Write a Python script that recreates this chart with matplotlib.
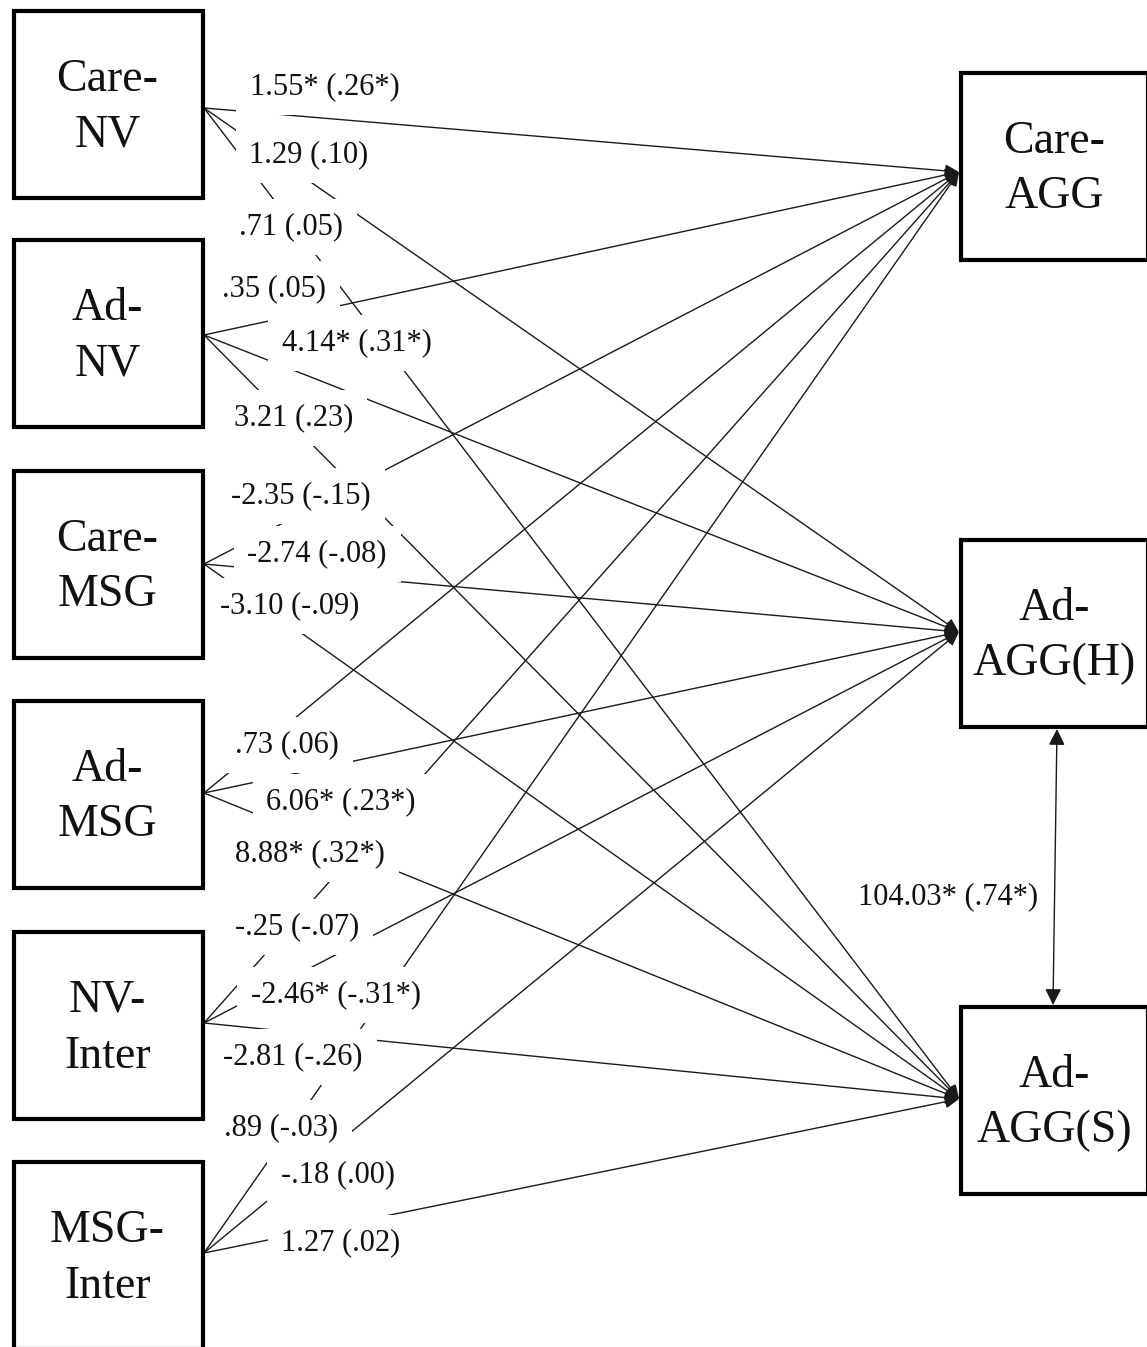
import matplotlib.pyplot as plt
from matplotlib.patches import Rectangle

plt.rcParams['font.family'] = ['Liberation Serif', 'DejaVu Serif']

# predictors (left) and outcomes (right)
sources = ['Care-\nNV', 'Ad-\nNV', 'Care-\nMSG', 'Ad-\nMSG', 'NV-\nInter', 'MSG-\nInter']
targets = ['Care-\nAGG', 'Ad-\nAGG(H)', 'Ad-\nAGG(S)']

# path estimates: b (beta), listed top to bottom as printed in the figure
path_labels = ['1.55* (.26*)', '1.29 (.10)', '.71 (.05)',
               '.35 (.05)', '4.14* (.31*)', '3.21 (.23)',
               '-2.35 (-.15)', '-2.74 (-.08)', '-3.10 (-.09)',
               '.73 (.06)', '6.06* (.23*)', '8.88* (.32*)',
               '-.25 (-.07)', '-2.46* (-.31*)', '-2.81 (-.26)',
               '.89 (-.03)', '-.18 (.00)', '1.27 (.02)']
cov_label = '104.03* (.74*)'

# ---- layout (pixel coordinates, y down) ----
W, H = 1147, 1347
src_x0, src_x1 = 14, 203
src_top = [11, 240, 471, 701, 932, 1162]
src_h = 187
src_anchor = [108, 335, 564, 793, 1023, 1253]

tgt_x0, tgt_x1 = 961, 1148
tgt_top = [73, 540, 1007]
tgt_h = 187
tgt_anchor = [172, 632, 1099]

label_pos = [(325, 87), (309, 155), (291, 227),
             (274, 289), (357, 343), (294, 418),
             (301, 496), (317, 554), (290, 606),
             (287, 745), (341, 802), (310, 854),
             (297, 927), (336, 995), (293, 1057),
             (281, 1128), (338, 1175), (341, 1243)]

fig = plt.figure(figsize=(W / 100, H / 100), dpi=100)
ax = fig.add_axes([0, 0, 1, 1])
ax.set_xlim(0, W)
ax.set_ylim(H, 0)
ax.axis('off')

# paths from every predictor to every outcome
for sy in src_anchor:
    for ty in tgt_anchor:
        ax.annotate('', xy=(959, ty), xytext=(src_x1 + 1, sy),
                    arrowprops=dict(arrowstyle='-|>,head_length=0.6,head_width=0.28',
                                    color='#1a1a1a', lw=1.0, shrinkA=0, shrinkB=0,
                                    mutation_scale=14),
                    zorder=1)

# labels with white text boxes covering the lines
for txt, (x, y) in zip(path_labels, label_pos):
    ax.text(x, y, txt, fontsize=22, ha='center', va='center', color='#111111',
            bbox=dict(boxstyle='square,pad=0.45', fc='white', ec='none'), zorder=3)

# covariance between the two adolescent aggression outcomes
ax.annotate('', xy=(1057, 729), xytext=(1053, 1005),
            arrowprops=dict(arrowstyle='<|-|>,head_length=0.7,head_width=0.35',
                            color='#1a1a1a', lw=1.0, shrinkA=0, shrinkB=0,
                            mutation_scale=14), zorder=2)
ax.text(948, 897, cov_label, fontsize=22, ha='center', va='center', color='#111111',
        bbox=dict(boxstyle='square,pad=0.2', fc='white', ec='none'), zorder=3)

# boxes
for name, top in zip(sources, src_top):
    ax.add_patch(Rectangle((src_x0, top), src_x1 - src_x0, src_h, fill=True,
                           fc='white', ec='black', lw=3.0, zorder=4))
    ax.text((src_x0 + src_x1) / 2 - 1, top + src_h / 2 + 3, name, fontsize=33,
            ha='center', va='center', linespacing=1.4, color='#111111', zorder=5)

for name, top in zip(targets, tgt_top):
    ax.add_patch(Rectangle((tgt_x0, top), tgt_x1 - tgt_x0, tgt_h, fill=True,
                           fc='white', ec='black', lw=3.0, zorder=4))
    ax.text((tgt_x0 + 1147) / 2, top + tgt_h / 2 + 3, name, fontsize=33,
            ha='center', va='center', linespacing=1.4, color='#111111', zorder=5)

fig.savefig('out.png', dpi=100)
